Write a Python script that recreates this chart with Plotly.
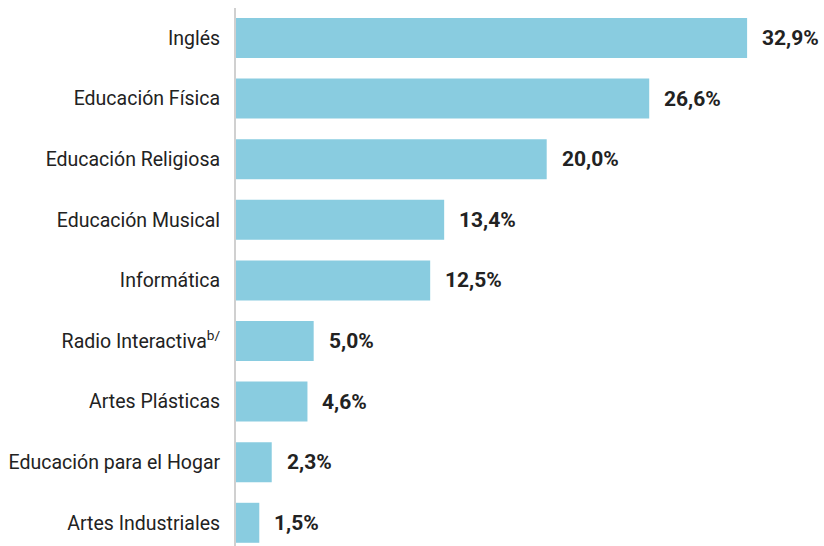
import plotly.graph_objects as go

# Subjects offered and share of schools (%)
subjects = [
    "Inglés",
    "Educación Física",
    "Educación Religiosa",
    "Educación Musical",
    "Informática",
    "Radio Interactiva<sup>b/</sup>",
    "Artes Plásticas",
    "Educación para el Hogar",
    "Artes Industriales",
]
shares = [32.9, 26.6, 20.0, 13.4, 12.5, 5.0, 4.6, 2.3, 1.5]

BAR_COLOR = "#89CCE0"
TEXT_COLOR = "#222222"
FONT = "Roboto, 'Noto Sans', sans-serif"


def fmt(v):
    return f"{v:.1f}".replace(".", ",") + "%"


fig = go.Figure(
    go.Bar(
        x=shares,
        y=subjects,
        orientation="h",
        marker=dict(color=BAR_COLOR, line=dict(width=0)),
        width=0.66,
        hoverinfo="skip",
    )
)

# Value labels to the right of each bar
for s, v in zip(subjects, shares):
    fig.add_annotation(
        x=v, y=s, text=f"<b>{fmt(v)}</b>",
        xanchor="left", yanchor="middle", xshift=13, yshift=0,
        showarrow=False,
        font=dict(family=FONT, size=21, color=TEXT_COLOR),
    )

fig.update_layout(
    width=824, height=546,
    margin=dict(l=236, r=0, t=8, b=0),
    paper_bgcolor="white", plot_bgcolor="white",
    showlegend=False,
    font=dict(family=FONT, size=19.5, color=TEXT_COLOR),
    xaxis=dict(
        range=[0, 37.85], visible=False, showgrid=False, zeroline=False,
    ),
    yaxis=dict(
        type="category",
        categoryorder="array", categoryarray=subjects,
        range=[8.383, -0.495],
        showline=True, linecolor="#d0d0d0", linewidth=2,
        ticks="", showgrid=False, zeroline=False,
        ticklabelstandoff=10,
        tickfont=dict(family=FONT, size=19.5, color=TEXT_COLOR),
    ),
)

fig.write_html("out.html")
